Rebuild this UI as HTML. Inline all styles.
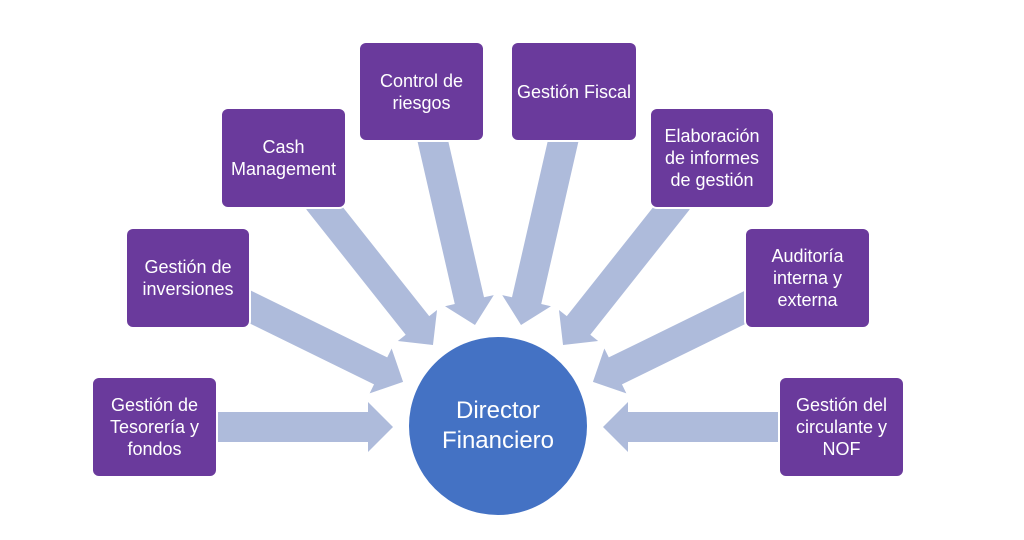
<!DOCTYPE html>
<html>
<head>
<meta charset="utf-8">
<style>
  html, body { margin: 0; padding: 0; background: #ffffff; }
  body { width: 1024px; height: 540px; position: relative; overflow: hidden; }
  svg { position: absolute; left: 0; top: 0; }
  .box {
    position: absolute;
    background: #6a3a9c;
    border-radius: 6px;
    box-shadow: 0 0 0 2px #ffffff;
    color: #ffffff;
    font-family: "Liberation Sans", sans-serif;
    font-size: 18px;
    line-height: 22px;
    text-align: center;
    display: flex;
    align-items: center;
    justify-content: center;
  }
  .circle {
    position: absolute;
    left: 409px; top: 337px;
    width: 178px; height: 178px;
    border-radius: 50%;
    background: #4472c4;
    color: #ffffff;
    font-family: "Liberation Sans", sans-serif;
    font-size: 24px;
    line-height: 30px;
    text-align: center;
    display: flex;
    align-items: center;
    justify-content: center;
  }
</style>
</head>
<body>
<svg width="1024" height="540" viewBox="0 0 1024 540">
  <g fill="#aebbdb">
    <!-- Tesorería -->
    <g transform="translate(210,427) rotate(0)">
      <polygon points="0,-15 158,-15 158,-25 183,0 158,25 158,15 0,15"/>
    </g>
    <!-- Inversiones -->
    <g transform="translate(240,302) rotate(26.1)">
      <polygon points="0,-15 156.6,-15 156.6,-25 181.6,0 156.6,25 156.6,15 0,15"/>
    </g>
    <!-- Cash -->
    <g transform="translate(318,200) rotate(51.6)">
      <polygon points="0,-15 160.1,-15 160.1,-25 185.1,0 160.1,25 160.1,15 0,15"/>
    </g>
    <!-- Control -->
    <g transform="translate(431,133) rotate(77.1)">
      <polygon points="0,-15 172,-15 172,-25 197,0 172,25 172,15 0,15"/>
    </g>
    <!-- Fiscal -->
    <g transform="translate(565,133) rotate(102.9)">
      <polygon points="0,-15 172,-15 172,-25 197,0 172,25 172,15 0,15"/>
    </g>
    <!-- Elaboración -->
    <g transform="translate(678,200) rotate(128.4)">
      <polygon points="0,-15 160.1,-15 160.1,-25 185.1,0 160.1,25 160.1,15 0,15"/>
    </g>
    <!-- Auditoría -->
    <g transform="translate(756,302) rotate(153.9)">
      <polygon points="0,-15 156.6,-15 156.6,-25 181.6,0 156.6,25 156.6,15 0,15"/>
    </g>
    <!-- Circulante -->
    <g transform="translate(786,427) rotate(180)">
      <polygon points="0,-15 158,-15 158,-25 183,0 158,25 158,15 0,15"/>
    </g>
  </g>
</svg>

<div class="box" style="left:93px;top:378px;width:123px;height:98px;">Gestión de<br>Tesorería y<br>fondos</div>
<div class="box" style="left:127px;top:229px;width:122px;height:98px;">Gestión de<br>inversiones</div>
<div class="box" style="left:222px;top:109px;width:123px;height:98px;">Cash<br>Management</div>
<div class="box" style="left:360px;top:43px;width:123px;height:97px;">Control de<br>riesgos</div>
<div class="box" style="left:512px;top:43px;width:124px;height:97px;">Gestión Fiscal</div>
<div class="box" style="left:651px;top:109px;width:122px;height:98px;">Elaboración<br>de informes<br>de gestión</div>
<div class="box" style="left:746px;top:229px;width:123px;height:98px;">Auditoría<br>interna y<br>externa</div>
<div class="box" style="left:780px;top:378px;width:123px;height:98px;">Gestión del<br>circulante y<br>NOF</div>

<div class="circle">Director<br>Financiero</div>
</body>
</html>
